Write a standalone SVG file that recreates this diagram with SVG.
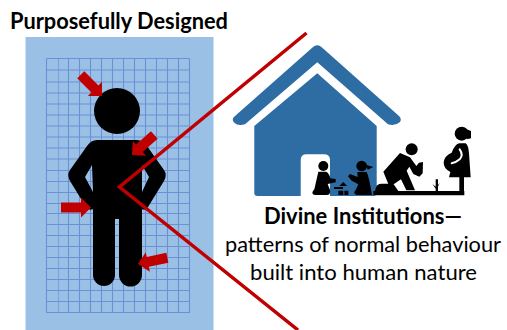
<svg xmlns="http://www.w3.org/2000/svg" width="507" height="330" viewBox="0 0 507 330">
<style>
.t{font-family:"Lato","Open Sans","Liberation Sans",sans-serif;fill:#000;text-anchor:start;font-size:23px}
.r{font-size:22px}
.b{font-weight:700}
.g line{stroke:#6a90d6;stroke-width:1.100}
.k{fill:#000}
.h{fill:#2e6ca4}
</style>
<defs>
<polygon id="arrow" points="-30,-5 -10,-5 -10,-10 0,0 -10,10 -10,5 -30,5" fill="#c00000"/>
</defs>
<rect width="507" height="330" fill="#fff"/>
<g id="title"><text class="t b" x="10" y="28.500" textLength="218" lengthAdjust="spacingAndGlyphs">Purposefully Designed</text></g>
<g id="figure">
<rect x="25.5" y="37" width="188" height="293" fill="#9bc0e6"/>
<g class="g">
<line x1="46.5" y1="58.5" x2="46.5" y2="313"/><line x1="58.5" y1="58.5" x2="58.5" y2="313" stroke-opacity=".6"/><line x1="68.5" y1="58.5" x2="68.5" y2="313"/><line x1="79.5" y1="58.5" x2="79.5" y2="313"/><line x1="90.5" y1="58.5" x2="90.5" y2="313"/><line x1="101.5" y1="58.5" x2="101.5" y2="313"/><line x1="112.5" y1="58.5" x2="112.5" y2="313"/><line x1="123.5" y1="58.5" x2="123.5" y2="313"/><line x1="134.5" y1="58.5" x2="134.5" y2="313"/><line x1="145.5" y1="58.5" x2="145.5" y2="313"/><line x1="156.5" y1="58.5" x2="156.5" y2="313"/><line x1="167.5" y1="58.5" x2="167.5" y2="313"/><line x1="178.5" y1="58.5" x2="178.5" y2="313"/><line x1="189.5" y1="58.5" x2="189.5" y2="313"/>
<line x1="46.5" y1="58.5" x2="189.5" y2="58.5"/><line x1="46.5" y1="70" x2="189.5" y2="70"/><line x1="46.5" y1="82" x2="189.5" y2="82"/><line x1="46.5" y1="93" x2="189.5" y2="93"/><line x1="46.5" y1="104" x2="189.5" y2="104"/><line x1="46.5" y1="115" x2="189.5" y2="115"/><line x1="46.5" y1="126" x2="189.5" y2="126"/><line x1="46.5" y1="137" x2="189.5" y2="137"/><line x1="46.5" y1="148" x2="189.5" y2="148"/><line x1="46.5" y1="159" x2="189.5" y2="159"/><line x1="46.5" y1="170.500" x2="189.5" y2="170.500"/><line x1="46.5" y1="181.500" x2="189.5" y2="181.500"/><line x1="46.5" y1="192.500" x2="189.5" y2="192.500"/><line x1="46.5" y1="203.500" x2="189.5" y2="203.500"/><line x1="46.5" y1="213.500" x2="189.5" y2="213.500"/><line x1="46.5" y1="224.500" x2="189.5" y2="224.500"/><line x1="46.5" y1="235.500" x2="189.5" y2="235.500"/><line x1="46.5" y1="246.500" x2="189.5" y2="246.500"/><line x1="46.5" y1="257.500" x2="189.5" y2="257.500"/><line x1="46.5" y1="268.500" x2="189.5" y2="268.500"/><line x1="46.5" y1="279.500" x2="189.5" y2="279.500"/><line x1="46.5" y1="290.500" x2="189.5" y2="290.500"/><line x1="46.5" y1="301.500" x2="189.5" y2="301.500"/><line x1="46.5" y1="312.500" x2="189.5" y2="312.500"/>
</g>
<circle cx="117" cy="111" r="23" class="k"/>
<path class="k" d="M97 140H137Q143 140 147 146L164 170Q167.500 175 164 181L148 207Q145 211 142 209V275A11.500 11.500 0 0 1 119 275V219H115V275A11 11 0 0 1 93 275V209Q89 211 86 207L70 181Q66.500 175 70 170L87 146Q91 140 97 140ZM92 165L85 177L93 192ZM142 165V192L149 177Z" fill-rule="evenodd"/>
<use href="#arrow" transform="translate(102,96) rotate(45)"/>
<use href="#arrow" transform="translate(132,155) rotate(138)"/>
<use href="#arrow" transform="translate(91,207.500)"/>
<use href="#arrow" transform="translate(138,264) rotate(168)"/>
</g>
<g id="house">
<path class="h" d="M312.500 47.500Q317.300 43 322 47.500L399 116Q402 119 400 122Q395 126.500 388 124.300L317.300 62.300L245 124.300Q238 126.500 234 122.500Q231 119 235 116Z"/>
<path class="h" fill-rule="evenodd" d="M317.300 73.300L376.700 126V193Q376.700 196 373 196H330V160Q330 154.300 324 154.300H306.500Q300.700 154.300 300.700 160V196H257.500Q254.300 196 254.300 193V126Z"/>
</g>
<g id="people" transform="translate(225,30) scale(.33333)">
<g id="child1"><circle cx="295" cy="408" r="15" class="k"/>
<path class="k" d="M280 425H303Q312 428 316 445L332 447V457L308 462L315 480Q318 495 305 495H270Q258 492 264 483L268 478Z"/></g>
<g id="blocks"><path class="k" d="M355 456L366 468H343ZM327 471H354V477H327ZM340 482H355V495H340ZM358 482H370V495H358Z"/></g>
<g id="child2"><circle cx="410" cy="408" r="16" class="k"/>
<path class="k" d="M424 405L445 411L428 419ZM397 426H425Q432 440 441 495H395Q382 490 392 480L400 463L380 452L369 439L375 432L398 441Z"/></g>
<g id="ground"><path class="k" d="M445 483H718V496H445ZM453 472Q456 461 470 461H505L520 483H450Z"/></g>
<g id="adult"><circle cx="560" cy="358" r="18" class="k"/>
<path class="k" d="M525 369L555 382L574 408L582 398L594 396L593 430L583 440L565 432L553 410L545 422L570 481H544L528 448L507 462H490L475 425Z"/></g>
<g id="plant"><path class="k" d="M632 448H639V483H632ZM622 462L632 470V476ZM644 458L639 470V465Z"/></g>
<g id="mother"><circle cx="710" cy="311" r="21" class="k"/>
<path class="k" d="M725 298L738 303V325L725 328Z"/>
<path class="k" d="M703 340H722Q730 345 732 370L737 442H672L676 426Q655 415 656 396Q658 378 680 368Q690 342 703 340Z"/>
<path d="M704 358Q716 375 704 388Q694 397 680 400" fill="none" stroke="#fff" stroke-width="6" stroke-linecap="round"/>
<rect x="703" y="440" width="14" height="48" class="k"/></g>
</g>
<g id="connectors"><polyline points="306.500,33 119.500,187 298,330" fill="none" stroke="#c00000" stroke-width="3.500"/></g>
<g id="caption">
<text class="t b" x="264" y="224" textLength="198" lengthAdjust="spacingAndGlyphs">Divine Institutions—</text>
<text class="t r" x="225" y="252" textLength="276" lengthAdjust="spacingAndGlyphs">patterns of normal behaviour</text>
<text class="t r" x="250" y="280" textLength="227" lengthAdjust="spacingAndGlyphs">built into human nature</text>
</g>
</svg>
